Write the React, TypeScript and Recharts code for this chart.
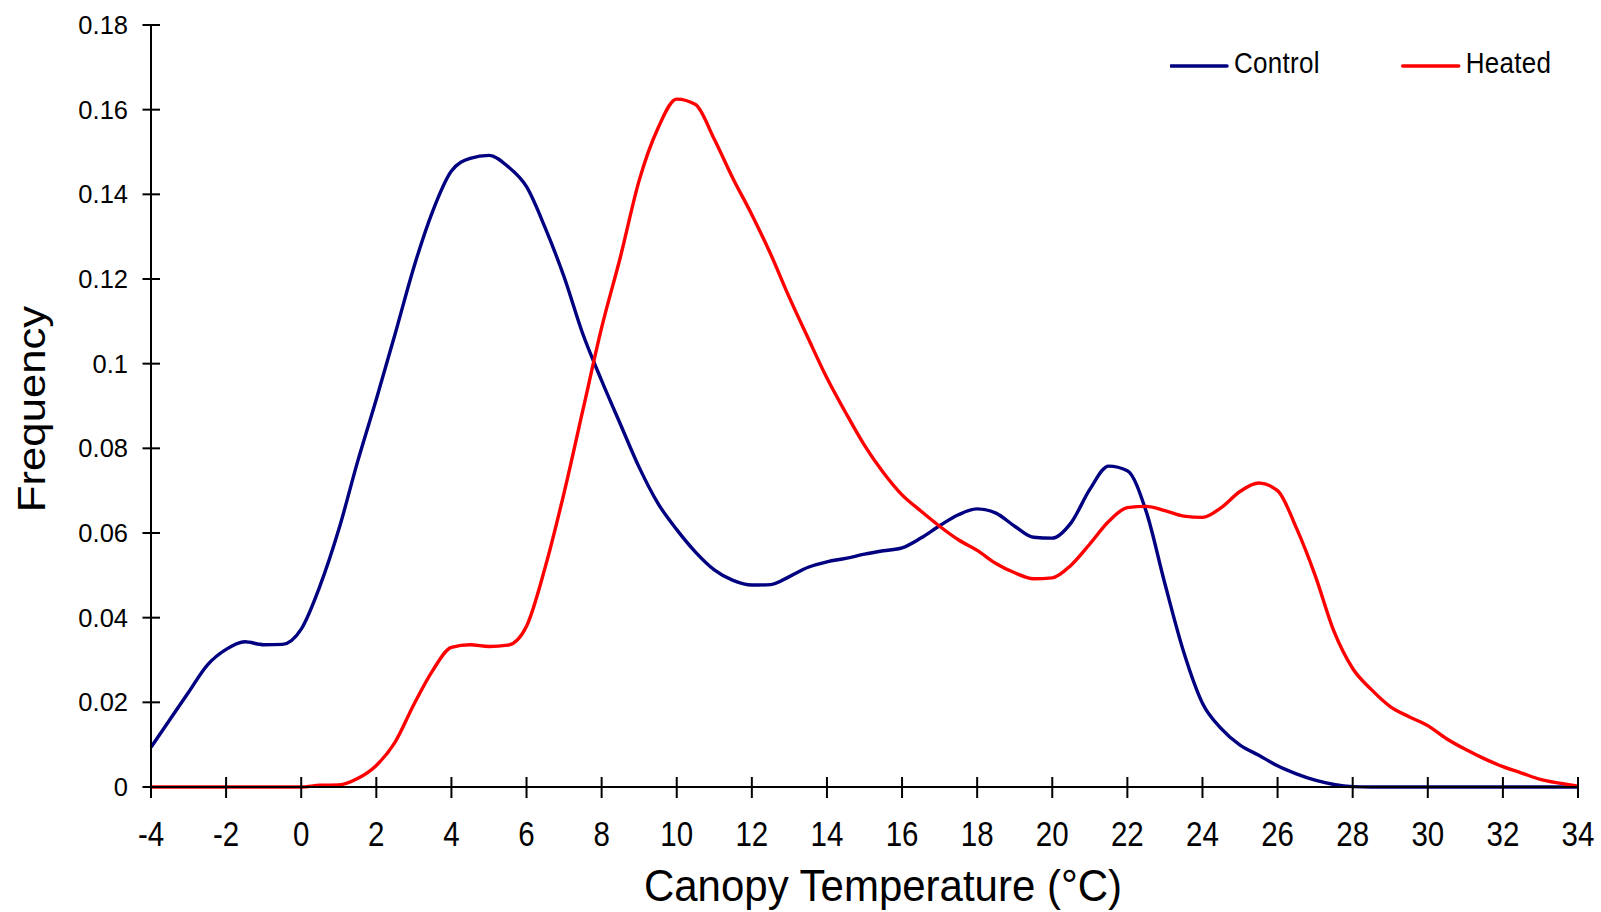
import { LineChart, Line, XAxis, YAxis, Legend } from 'recharts'

// canopy temperature classes (°C)
const temps = [
  -4, -3.5, -3, -2.5, -2, -1.5, -1, -0.5, 0, 0.5, 1, 1.5, 2, 2.5, 3, 3.5, 4, 4.5, 5, 5.5,
  6, 6.5, 7, 7.5, 8, 8.5, 9, 9.5, 10, 10.5, 11, 11.5, 12, 12.5, 13, 13.5, 14, 14.5, 15, 15.5,
  16, 16.5, 17, 17.5, 18, 18.5, 19, 19.5, 20, 20.5, 21, 21.5, 22, 22.5, 23, 23.5, 24, 24.5,
  25, 25.5, 26, 26.5, 27, 27.5, 28, 28.5, 29, 29.5, 30, 30.5, 31, 31.5, 32, 32.5, 33, 33.5, 34,
]

const control = [
  0.0094, 0.0159, 0.0224, 0.0288, 0.0325, 0.0343, 0.0336, 0.0337, 0.0373, 0.0475,
  0.0608, 0.0768, 0.0916, 0.107, 0.1228, 0.136, 0.1455, 0.1485, 0.1492, 0.1466,
  0.1418, 0.132, 0.1205, 0.107, 0.096, 0.0857, 0.0755, 0.067, 0.0608, 0.0555,
  0.0513, 0.0488, 0.0477, 0.0478, 0.0497, 0.0519, 0.0532, 0.054, 0.055, 0.0558,
  0.0565, 0.0588, 0.0617, 0.0643, 0.0657, 0.0647, 0.0616, 0.059, 0.0588, 0.0624,
  0.0703, 0.0758, 0.0747, 0.0651, 0.048, 0.0319, 0.0198, 0.0138, 0.0099, 0.0075,
  0.005, 0.0031, 0.0016, 0.0006, 0.0001, 0, 0, 0, 0, 0,
  0, 0, 0, 0, 0, 0, 0,
]

const heated = [
  0, 0, 0, 0, 0, 0, 0, 0, 0, 0.0004,
  0.0005, 0.002, 0.0051, 0.0106, 0.0195, 0.0275, 0.033, 0.0336, 0.0332, 0.0335,
  0.038, 0.052, 0.0695, 0.089, 0.1085, 0.1252, 0.1433, 0.1556, 0.1625, 0.1612,
  0.153, 0.1437, 0.1352, 0.1259, 0.1156, 0.106, 0.0966, 0.0884, 0.0807, 0.0743,
  0.069, 0.0652, 0.0616, 0.0584, 0.0559, 0.0528, 0.0506, 0.0492, 0.0494, 0.0524,
  0.0574, 0.0627, 0.066, 0.0663, 0.0653, 0.064, 0.0637, 0.066, 0.0698, 0.0718,
  0.07, 0.0612, 0.05, 0.0368, 0.028, 0.023, 0.019, 0.0166, 0.0145, 0.0114,
  0.0089, 0.0067, 0.0048, 0.0033, 0.0018, 0.0009, 0.0002,
]

const xTicks = [-4, -2, 0, 2, 4, 6, 8, 10, 12, 14, 16, 18, 20, 22, 24, 26, 28, 30, 32, 34]
const yTicks = [0, 0.02, 0.04, 0.06, 0.08, 0.1, 0.12, 0.14, 0.16, 0.18]

const data = temps.map((t, i) => ({ t, control: control[i], heated: heated[i] }))

const FONT = '"Liberation Sans", Arial, sans-serif'

// ticks cross the axis line in the original, so draw them by hand
function XTick(props: any) {
  const { x, y, payload } = props
  return (
    <g>
      <line x1={x} x2={x} y1={y - 10} y2={y + 11} stroke="#000" strokeWidth={2} />
      <text
        transform={`translate(${x},${y + 59}) scale(1,1.16)`}
        textAnchor="middle"
        fontSize={29.5}
        fontFamily={FONT}
        fill="#000"
      >
        {String(payload.value)}
      </text>
    </g>
  )
}

function YTick(props: any) {
  const { x, y, payload } = props
  return (
    <g>
      <line x1={x - 8.5} x2={x + 9} y1={y} y2={y} stroke="#000" strokeWidth={2} />
      <text x={x - 23} y={y + 9} textAnchor="end" fontSize={25.5} fontFamily={FONT} fill="#000">
        {String(payload.value)}
      </text>
    </g>
  )
}

function LegendBox(props: any) {
  const items = props.payload || []
  return (
    <svg width={400} height={40} style={{ display: 'block' }}>
      {items.map((it: any, i: number) => (
        <g key={it.value} transform={`translate(${i * 231.7},0)`}>
          <line x1={1} x2={57} y1={21} y2={21} stroke={it.color} strokeWidth={3.5} strokeLinecap="round" />
          <text
            transform="translate(64,28.3) scale(1,1.1)"
            fontSize={26}
            fontFamily={FONT}
            letterSpacing={0.3}
            fill="#000"
          >
            {it.value}
          </text>
        </g>
      ))}
    </svg>
  )
}

export default function App() {
  return (
    <div style={{ position: 'absolute', left: 0, top: 0, width: 1601, height: 912, background: '#fff' }}>
      <LineChart width={1601} height={912} data={data} margin={{ top: 25, right: 23, bottom: 65, left: 71 }}>
        <XAxis
          type="number"
          dataKey="t"
          domain={[-4, 34]}
          ticks={xTicks}
          interval={0}
          height={60}
          tickSize={0}
          tickMargin={0}
          tickLine={false}
          axisLine={{ stroke: '#000', strokeWidth: 2 }}
          tick={<XTick />}
          label={{
            content: () => (
              <text
                transform="translate(883,901) scale(1,1.07)"
                textAnchor="middle"
                fontSize={42}
                fontFamily={FONT}
                fill="#000"
              >
                Canopy Temperature (°C)
              </text>
            ),
          }}
        />
        <YAxis
          type="number"
          domain={[0, 0.18]}
          ticks={yTicks}
          interval={0}
          width={80}
          tickSize={0}
          tickMargin={0}
          tickLine={false}
          axisLine={{ stroke: '#000', strokeWidth: 2 }}
          tick={<YTick />}
          label={{
            content: () => (
              <text
                transform="translate(45,409) rotate(-90) scale(1.12,1)"
                textAnchor="middle"
                fontSize={39}
                fontFamily={FONT}
                fill="#000"
              >
                Frequency
              </text>
            ),
          }}
        />
        <Legend
          layout="horizontal"
          align="center"
          verticalAlign="middle"
          wrapperStyle={{ left: 1170, top: 45, width: 400, height: 40 }}
          content={<LegendBox />}
        />
        <Line
          type="monotone"
          dataKey="control"
          name="Control"
          stroke="#000080"
          strokeWidth={3.4}
          dot={false}
          activeDot={false}
          isAnimationActive={false}
        />
        <Line
          type="monotone"
          dataKey="heated"
          name="Heated"
          stroke="#ff0000"
          strokeWidth={3.4}
          dot={false}
          activeDot={false}
          isAnimationActive={false}
        />
      </LineChart>
    </div>
  )
}
